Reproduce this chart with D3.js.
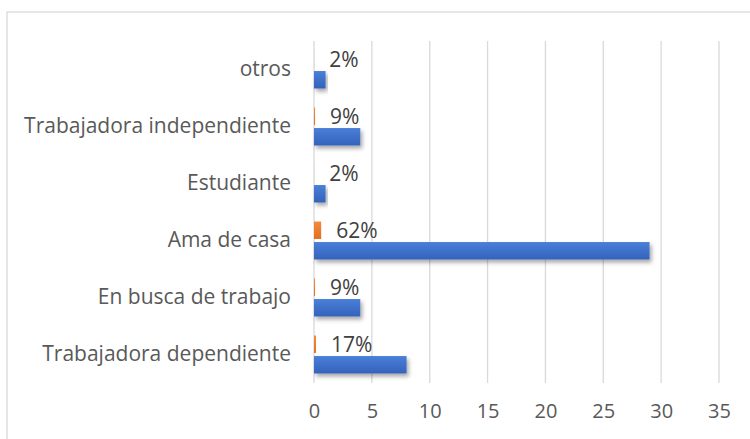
<!DOCTYPE html>
<html><head><meta charset="utf-8">
<script src="https://cdn.jsdelivr.net/npm/d3@7"></script>
<style>body{margin:0;background:#fff}svg{display:block}</style>
</head><body>
<svg id="c" width="750" height="439"></svg>
<script>
const categories = ["otros","Trabajadora independiente","Estudiante","Ama de casa","En busca de trabajo","Trabajadora dependiente"];
const counts = [1,4,1,29,4,8];
const shares = [0.02,0.09,0.02,0.62,0.09,0.17];
const shareLabels = ["2%","9%","2%","62%","9%","17%"];
const xTicks = [0,5,10,15,20,25,30,35];

const svg = d3.select("#c");
const M = {left:314, right:719, top:41, bottom:383};
const FONT = "'Open Sans', sans-serif";

const defs = svg.append("defs");
const gb = defs.append("linearGradient").attr("id","gBlue").attr("x1",0).attr("y1",0).attr("x2",0).attr("y2",1);
gb.append("stop").attr("offset","0").attr("stop-color","#4a7fd8");
gb.append("stop").attr("offset","1").attr("stop-color","#3562bb");
const go = defs.append("linearGradient").attr("id","gOrange").attr("x1",0).attr("y1",0).attr("x2",0).attr("y2",1);
go.append("stop").attr("offset","0").attr("stop-color","#f58a3c");
go.append("stop").attr("offset","1").attr("stop-color","#e2701f");
const f = defs.append("filter").attr("id","sh").attr("x","-10%").attr("y","-30%").attr("width","130%").attr("height","190%");
f.append("feDropShadow").attr("dx",2).attr("dy",3).attr("stdDeviation",2.2).attr("flood-color","#000").attr("flood-opacity",0.35);

// frame
svg.append("rect").attr("x",7).attr("y",12).attr("width",760).attr("height",460)
  .attr("fill","none").attr("stroke","#d9d9d9").attr("stroke-width",1.3);

const x = d3.scaleLinear().domain([0,35]).range([M.left,M.right]);
const y = d3.scaleBand().domain(categories).range([M.top,M.bottom]).paddingInner(0.334).paddingOuter(0.167);
const sub = d3.scaleBand().domain(["share","count"]).range([0,y.bandwidth()]).paddingInner(0.15);

// gridlines
svg.append("g").selectAll("line").data(xTicks).join("line")
  .attr("x1",d=>x(d)).attr("x2",d=>x(d)).attr("y1",M.top).attr("y2",M.bottom)
  .attr("stroke","#d9d9d9").attr("stroke-width",1.3);

// x axis labels
const xa = svg.append("g").attr("transform",`translate(0,${M.bottom})`)
  .call(d3.axisBottom(x).tickValues(xTicks).tickSize(0).tickPadding(21).tickFormat(d3.format("d")));
xa.select(".domain").remove();
xa.selectAll("text").attr("font-family",FONT).attr("font-size",20).attr("fill","#595959");

// y axis labels
const ya = svg.append("g").attr("transform",`translate(${M.left},0)`)
  .call(d3.axisLeft(y).tickSize(0).tickPadding(23));
ya.select(".domain").remove();
ya.selectAll("text").attr("font-family",FONT).attr("font-size",21).attr("fill","#595959");

// bars
const rows = categories.map((c,i)=>({c, count:counts[i], share:shares[i], label:shareLabels[i]}));
svg.append("g").selectAll("rect").data(rows).join("rect")
  .attr("x",x(0)).attr("y",d=>y(d.c)+sub("count")).attr("height",sub.bandwidth())
  .attr("width",d=>x(d.count)-x(0)).attr("fill","url(#gBlue)").attr("filter","url(#sh)");
svg.append("g").selectAll("rect").data(rows).join("rect")
  .attr("x",x(0)).attr("y",d=>y(d.c)+sub("share")).attr("height",sub.bandwidth())
  .attr("width",d=>x(d.share)-x(0)).attr("fill","url(#gOrange)").attr("opacity",d=>d.share<0.05?0.3:1);

// data labels
svg.append("g").selectAll("text").data(rows).join("text")
  .attr("x",d=>x(d.share)+15).attr("y",d=>y(d.c)+sub("share")+sub.bandwidth()/2)
  .attr("dy","0.38em").attr("font-family",FONT).attr("font-size",21).attr("fill","#404040")
  .text(d=>d.label);
</script>
</body></html>
